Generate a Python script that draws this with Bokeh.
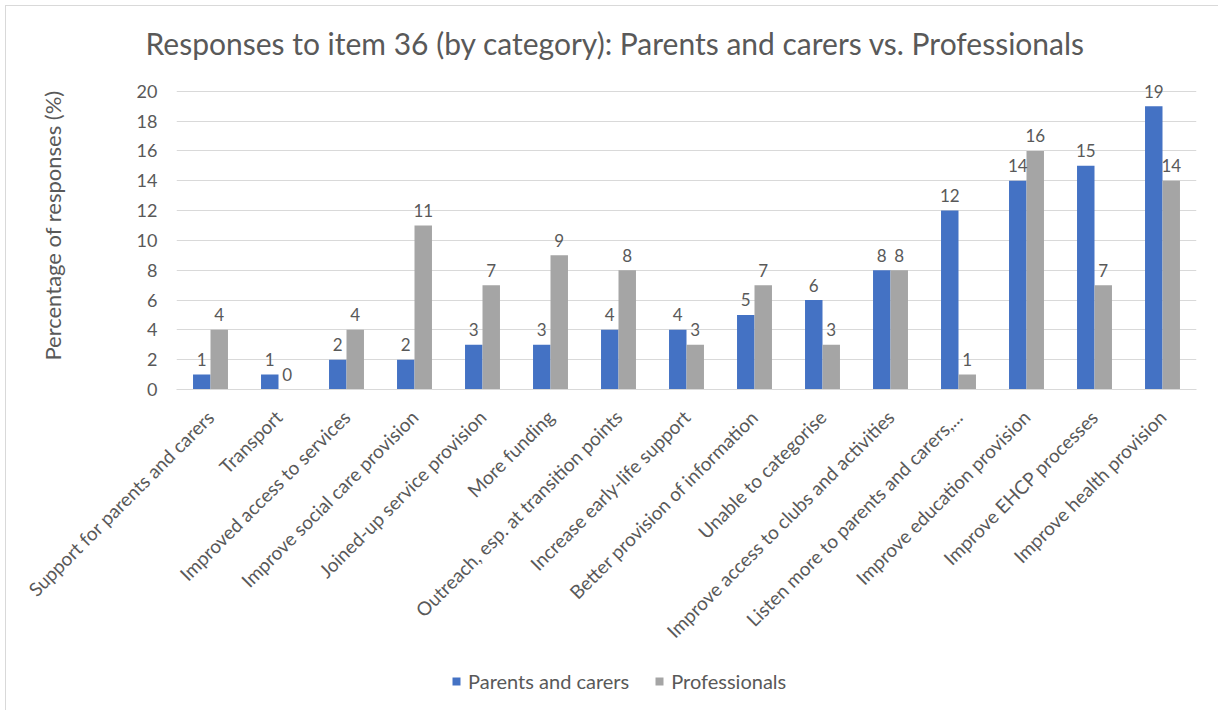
from bokeh.plotting import figure
from bokeh.layouts import column
from bokeh.models import (ColumnDataSource, FactorRange, Legend, LegendItem,
                          FixedTicker, Title, Range1d)
from bokeh.transform import dodge
from bokeh.core.properties import value
from bokeh.embed import file_html
from bokeh.resources import INLINE
import math

categories = [
    "Support for parents and carers",
    "Transport",
    "Improved access to services",
    "Improve social care provision",
    "Joined-up service provision",
    "More funding",
    "Outreach, esp. at transition points",
    "Increase early-life support",
    "Better provision of information",
    "Unable to categorise",
    "Improve access to clubs and activities",
    "Listen more to parents and carers,...",
    "Improve education provision",
    "Improve EHCP processes",
    "Improve health provision",
]
parents = [1, 1, 2, 2, 3, 3, 4, 4, 5, 6, 8, 12, 14, 15, 19]
professionals = [4, 0, 4, 11, 7, 9, 8, 3, 7, 3, 8, 1, 16, 7, 14]
y_ticks = [0, 2, 4, 6, 8, 10, 12, 14, 16, 18, 20]
series_names = ["Parents and carers", "Professionals"]

FONT = "Lato"
TXT = "#595959"
GRID = "#d9d9d9"
BLUE = "#4472C4"
GRAY = "#A5A5A5"

src = ColumnDataSource(dict(
    cat=categories,
    parents=parents,
    professionals=professionals,
    parents_txt=[str(v) for v in parents],
    professionals_txt=[str(v) for v in professionals],
))

p = figure(width=1212, height=654, x_range=FactorRange(factors=categories),
           y_range=Range1d(0, 22), output_backend="svg", toolbar_location=None,
           min_border_left=170, min_border_right=22, min_border_top=55,
           min_border_bottom=271)
p.outline_line_color = None

p.title = Title(text="Responses to item 36 (by category): Parents and carers vs. Professionals",
                align="left", text_font=FONT, text_font_size="30px",
                text_font_style="normal", text_color=TXT, offset=-31, standoff=1)

bw = 0.257
r1 = p.vbar(x=dodge("cat", -bw / 2, range=p.x_range), top="parents", width=bw,
            source=src, fill_color=BLUE, line_color=None)
r2 = p.vbar(x=dodge("cat", bw / 2, range=p.x_range), top="professionals", width=bw,
            source=src, fill_color=GRAY, line_color=None)

for col, off in (("parents", -bw / 2), ("professionals", bw / 2)):
    p.text(x=dodge("cat", off, range=p.x_range), y=col, text=col + "_txt", source=src,
           text_align="center", text_baseline="alphabetic", y_offset=-15,
           text_font=value(FONT), text_font_size="17px", text_color=TXT)

p.xgrid.grid_line_color = None
p.ygrid.grid_line_color = GRID
p.ygrid.grid_line_width = 1

p.yaxis.ticker = FixedTicker(ticks=y_ticks)
p.yaxis.axis_line_color = None
p.yaxis.major_tick_line_color = None
p.yaxis.minor_tick_line_color = None
p.yaxis.major_tick_out = 0
p.yaxis.major_label_standoff = 19
p.yaxis.major_label_text_font = FONT
p.yaxis.major_label_text_font_size = "18px"
p.yaxis.major_label_text_color = TXT
p.yaxis.axis_label = "Percentage of responses (%)"
p.yaxis.axis_label_text_font = FONT
p.yaxis.axis_label_text_font_size = "22px"
p.yaxis.axis_label_text_font_style = "normal"
p.yaxis.axis_label_text_color = TXT
p.yaxis.axis_label_standoff = 68

p.xaxis.axis_line_color = GRID
p.xaxis.major_tick_line_color = None
p.xaxis.major_tick_out = 0
p.xaxis.major_label_orientation = math.pi / 4
p.xaxis.major_label_standoff = 24
p.xaxis.major_label_text_font = FONT
p.xaxis.major_label_text_font_size = "19px"
p.xaxis.major_label_text_color = TXT

# legend strip: same series drawn out of view, legend shown in its frame
lg = figure(width=1212, height=50, x_range=p.x_range, y_range=Range1d(100, 101),
            output_backend="svg", toolbar_location=None, min_border=0,
            x_axis_type=None, y_axis_type=None)
lg.outline_line_color = None
lg.xgrid.grid_line_color = None
lg.ygrid.grid_line_color = None
l1 = lg.vbar(x=dodge("cat", -bw / 2, range=lg.x_range), top="parents", width=bw,
             source=src, fill_color=BLUE, line_color=None)
l2 = lg.vbar(x=dodge("cat", bw / 2, range=lg.x_range), top="professionals", width=bw,
             source=src, fill_color=GRAY, line_color=None)
legend = Legend(items=[LegendItem(label=series_names[0], renderers=[l1]),
                       LegendItem(label=series_names[1], renderers=[l2])],
                orientation="horizontal", location=(275, 17),
                glyph_width=10, glyph_height=10, label_standoff=7, spacing=25,
                padding=0, margin=0, border_line_color=None,
                background_fill_alpha=0, label_text_font=FONT,
                label_text_font_size="20px", label_text_color=TXT)
lg.add_layout(legend, "center")

layout = column(p, lg, styles={"margin-left": "5px", "margin-top": "5px",
                               "border-left": "1px solid #d9d9d9",
                               "border-top": "1px solid #d9d9d9"})

open("out.html", "w").write(file_html(layout, INLINE))
